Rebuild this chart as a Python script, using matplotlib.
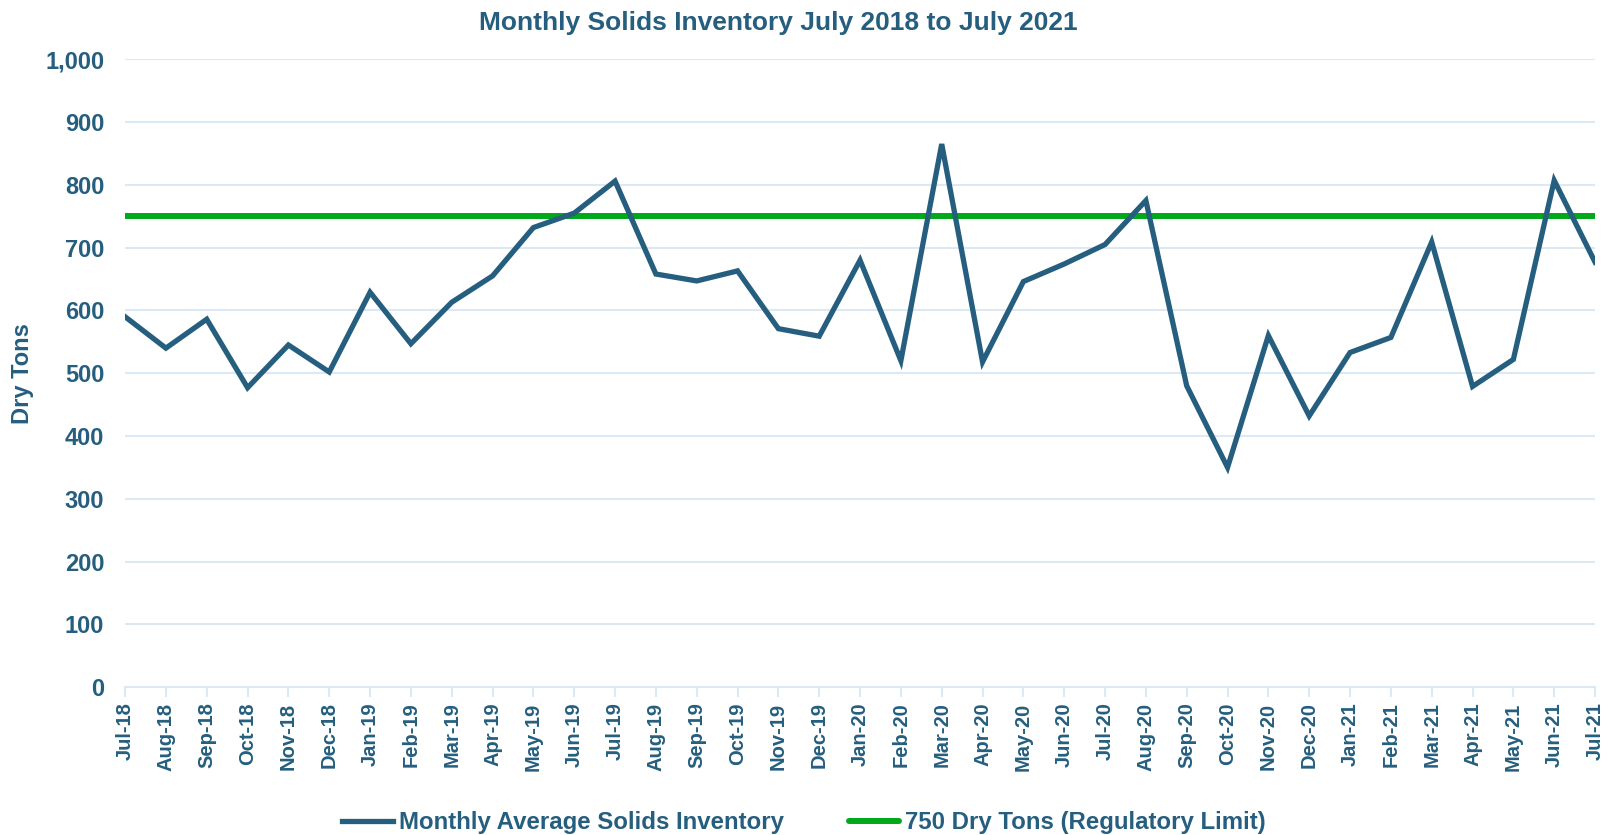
import matplotlib
matplotlib.use("Agg")
import matplotlib.pyplot as plt
from matplotlib.ticker import FuncFormatter

plt.rcParams['font.family'] = ['Liberation Sans', 'DejaVu Sans']
plt.rcParams['font.weight'] = 'bold'

#%% data
months = ["Jul-18", "Aug-18", "Sep-18", "Oct-18", "Nov-18", "Dec-18",
          "Jan-19", "Feb-19", "Mar-19", "Apr-19", "May-19", "Jun-19",
          "Jul-19", "Aug-19", "Sep-19", "Oct-19", "Nov-19", "Dec-19",
          "Jan-20", "Feb-20", "Mar-20", "Apr-20", "May-20", "Jun-20",
          "Jul-20", "Aug-20", "Sep-20", "Oct-20", "Nov-20", "Dec-20",
          "Jan-21", "Feb-21", "Mar-21", "Apr-21", "May-21", "Jun-21",
          "Jul-21"]
inventory = [590, 540, 586, 477, 545, 502,
             629, 547, 613, 655, 732, 755,
             806, 658, 647, 663, 571, 559,
             680, 520, 865, 518, 646, 674,
             705, 775, 480, 350, 560, 432,
             533, 557, 709, 479, 522, 807,
             677]
limit = [750] * len(months)
yticks = [0, 100, 200, 300, 400, 500, 600, 700, 800, 900, 1000]

navy = "#255E7E"
green = "#00A81A"
grid_c = "#DCE9F4"

#%% plot
fig = plt.figure(figsize=(16.18, 8.35), dpi=100)
ax = fig.add_axes([0.0773, 0.177, 0.9085, 0.752])

x = list(range(len(months)))
ax.plot(x, inventory, color=navy, lw=3.8, solid_joinstyle="miter",
        label="Monthly Average Solids Inventory", zorder=3)
ax.plot(x, limit, color=green, lw=4.3, solid_capstyle="round",
        label="750 Dry Tons (Regulatory Limit)", zorder=2)

ax.set_xlim(0, len(months) - 1)
ax.set_ylim(0, 1000)
ax.set_yticks(yticks)
ax.yaxis.set_major_formatter(FuncFormatter(lambda v, p: f"{int(v):,}"))
ax.set_xticks(x)
ax.set_xticklabels(months, rotation=90)

ax.grid(axis="y", color=grid_c, lw=1.5)
ax.set_axisbelow(True)
for s in ["top", "right", "left"]:
    ax.spines[s].set_visible(False)
ax.spines["bottom"].set_color(grid_c)
ax.spines["bottom"].set_linewidth(1.5)

ax.tick_params(axis="y", length=0, pad=15, labelsize=17, labelcolor=navy)
ax.tick_params(axis="x", length=7, width=1.5, color=grid_c, pad=4,
               labelsize=14.5, labelcolor=navy)
for lab in ax.get_xticklabels() + ax.get_yticklabels():
    lab.set_fontweight("bold")

ax.set_ylabel("Dry Tons", color=navy, fontsize=17, fontweight="bold",
              labelpad=8)
fig.text(0.481, 0.972, "Monthly Solids Inventory July 2018 to July 2021",
         color=navy, fontsize=19, fontweight="bold", ha="center", va="center")

leg = fig.legend(loc="center", bbox_to_anchor=(0.497, 0.015), ncol=2,
                 frameon=False, fontsize=17.3, handlelength=2.1,
                 handletextpad=0.25, columnspacing=2.7)
for t in leg.get_texts():
    t.set_color(navy)
    t.set_fontweight("bold")

fig.savefig("out.png", dpi=100)
